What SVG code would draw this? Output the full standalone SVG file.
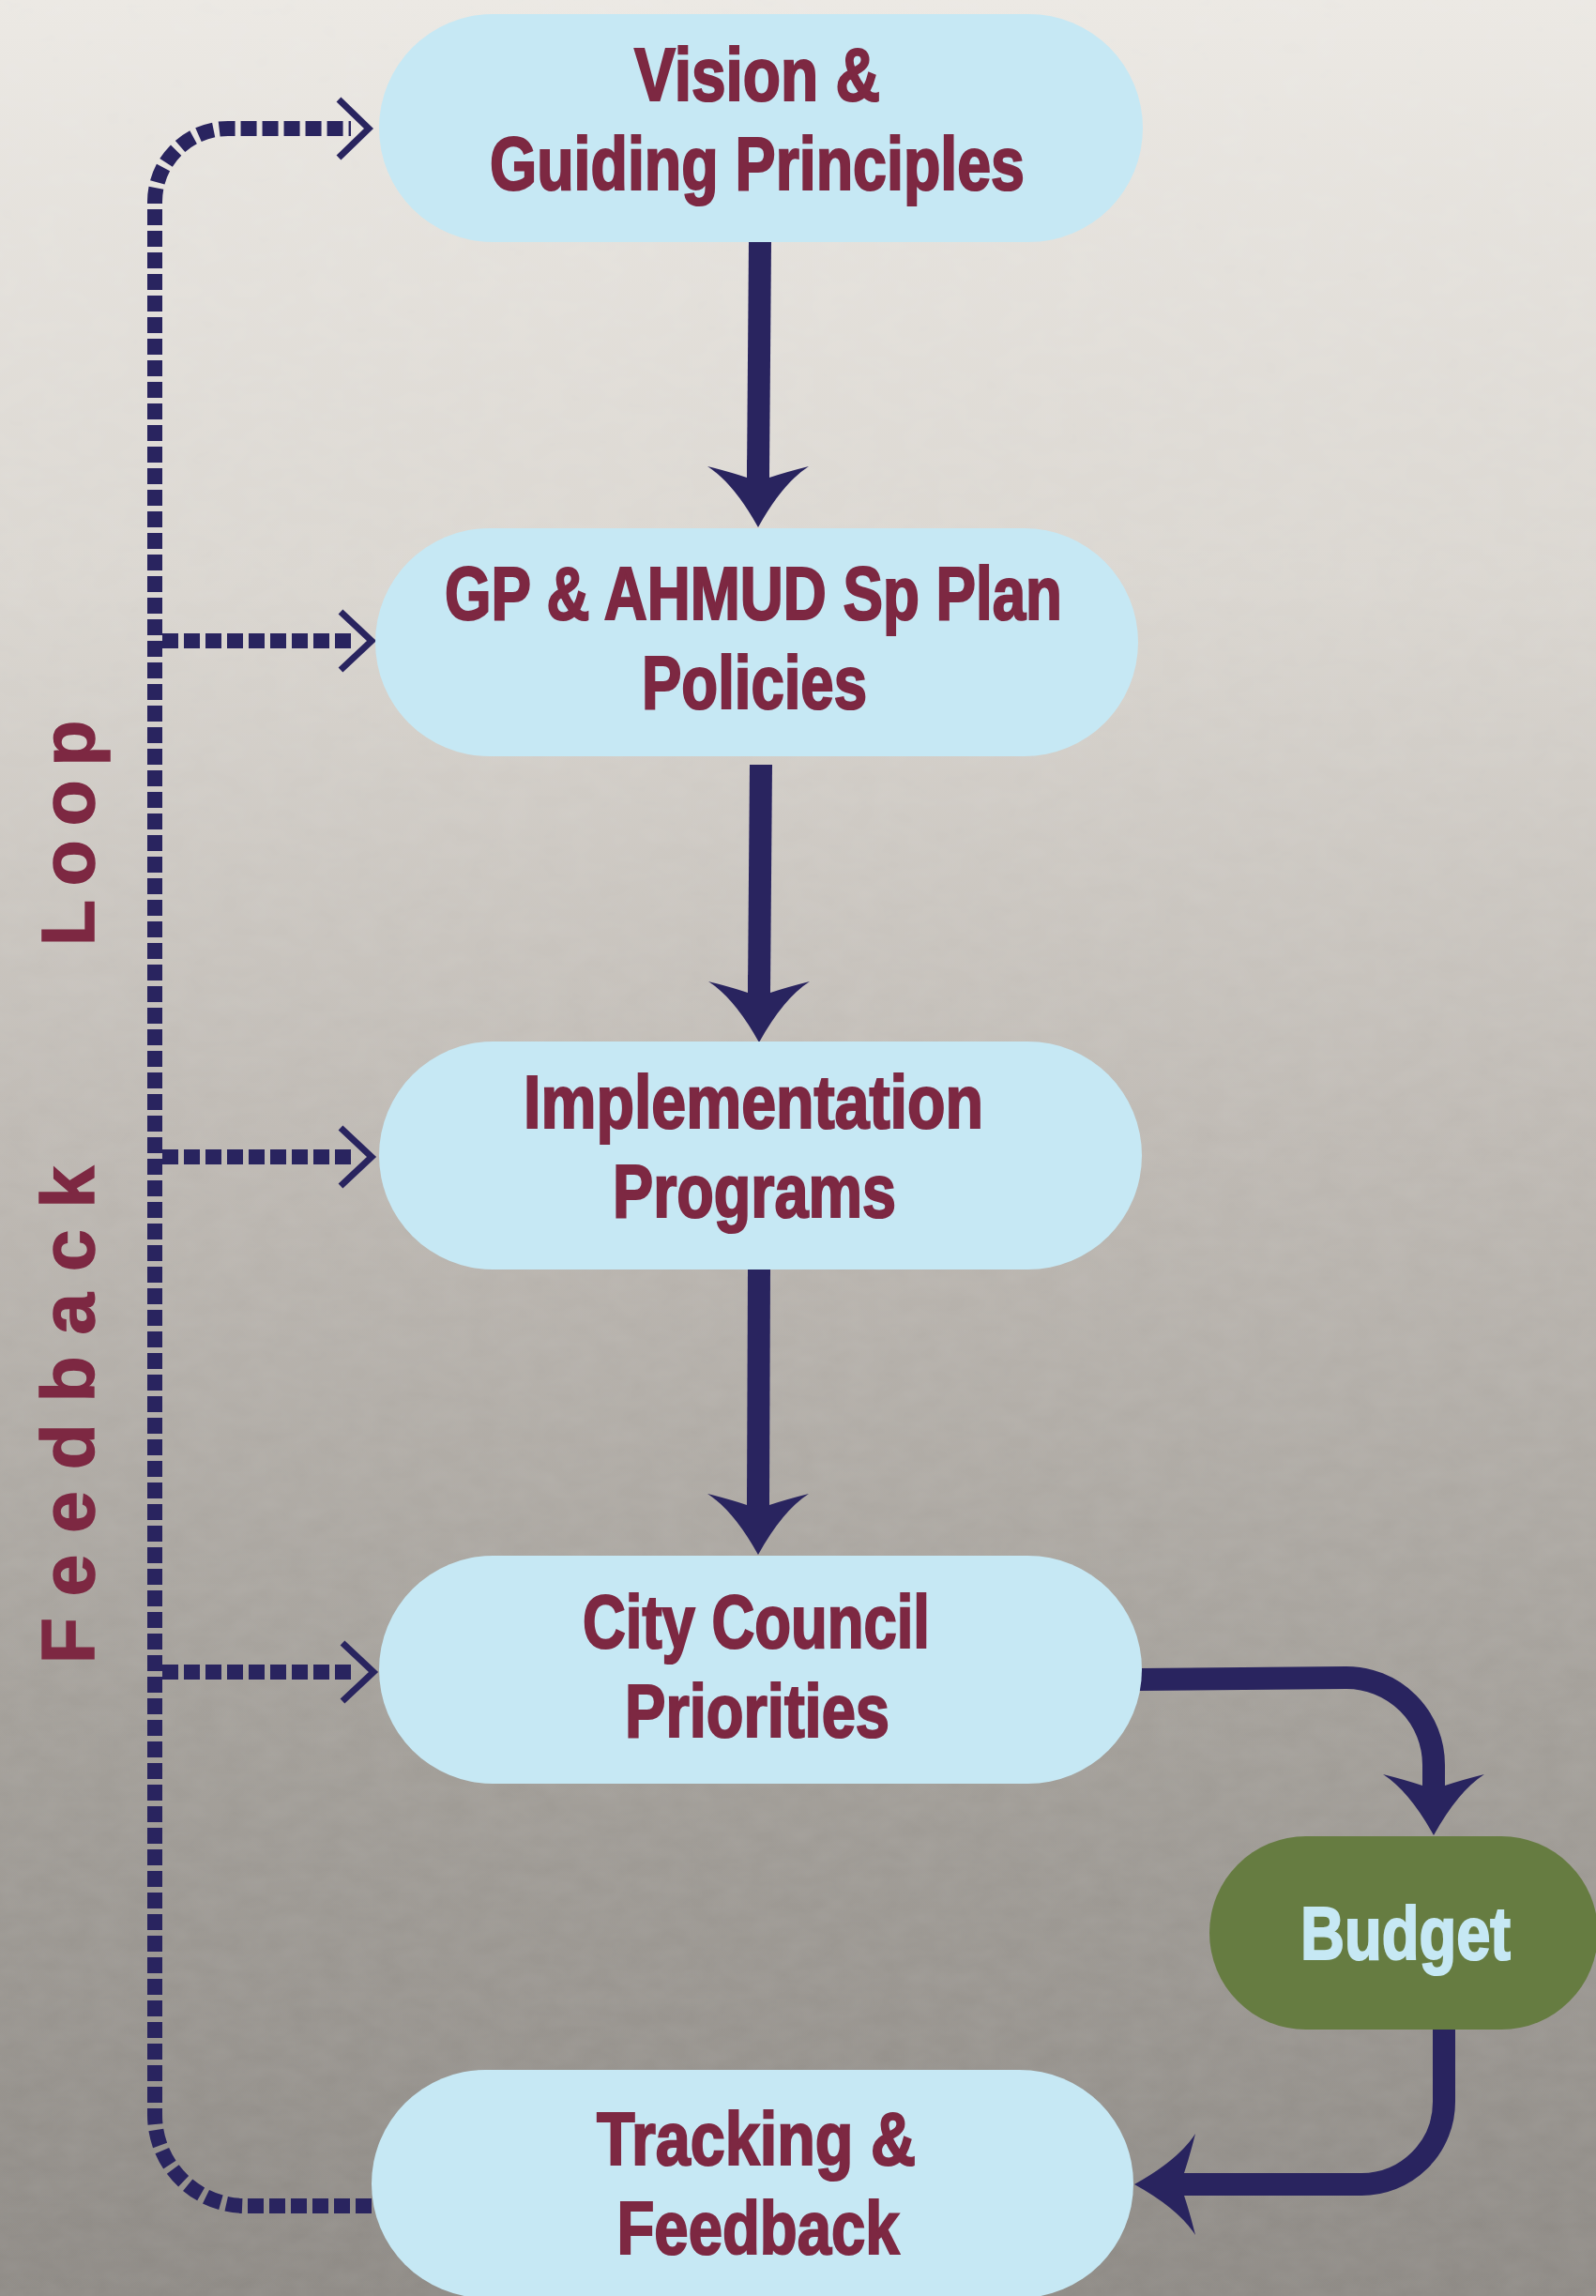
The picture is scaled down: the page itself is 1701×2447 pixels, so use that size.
<svg xmlns="http://www.w3.org/2000/svg" width="1701" height="2447" viewBox="0 0 1701 2447">
  <defs>
    <linearGradient id="bg" x1="0" y1="0" x2="0" y2="1">
      <stop offset="0" stop-color="#EBE8E3"/>
      <stop offset="0.25" stop-color="#DAD6D0"/>
      <stop offset="0.5" stop-color="#BDB8B2"/>
      <stop offset="0.75" stop-color="#A29E98"/>
      <stop offset="1" stop-color="#8D8984"/>
    </linearGradient>
    <filter id="paper" x="0" y="0" width="100%" height="100%">
      <feTurbulence type="fractalNoise" baseFrequency="0.03 0.05" numOctaves="3" seed="4"/>
      <feColorMatrix type="matrix" values="0 0 0 0 1  0 0 0 0 1  0 0 0 0 1  0 0 0 0.08 0"/>
    </filter>
    <path id="head" d="M0,0 Q-26,-47 -54,-65 Q-30,-59 -12,-53 L-12,-72 L12,-72 L12,-53 Q30,-59 54,-65 Q26,-47 0,0 Z"/>
    <style>
      .node { fill: #C6E8F4; }
      .budget { fill: #667C41; }
      .lbl { font-family: "Liberation Sans", Arial, sans-serif; font-weight: bold; font-size: 80px; fill: #7D2842; stroke: #7D2842; stroke-width: 2.2; text-anchor: middle; }
      .lbl2 { fill: #C6E8F4; stroke: #C6E8F4; }
      .solid { fill: none; stroke: #29245F; stroke-width: 24; }
      .dash { fill: none; stroke: #29245F; stroke-width: 16; stroke-dasharray: 17 6; }
      .chev { fill: none; stroke: #29245F; stroke-width: 7; }
      .hd { fill: #29245F; }
      .side { font-family: "Liberation Sans", Arial, sans-serif; font-weight: bold; font-size: 80px; fill: #7D2842; stroke: #7D2842; stroke-width: 1.5; }
    </style>
  </defs>

  <rect x="0" y="0" width="1701" height="2447" fill="url(#bg)"/>
  <rect x="0" y="0" width="1701" height="2447" filter="url(#paper)"/>

  <g id="connectors">
    <path class="dash" d="M396,2351 H262 A97 97 0 0 1 165 2254 V215 A78 78 0 0 1 243 137 H374"/>
    <polyline class="chev" points="361,106 393,137 361,168"/>
    <path class="dash" d="M173,683 H378"/>
    <polyline class="chev" points="363,652 396,683 363,714"/>
    <path class="dash" d="M173,1233 H378"/>
    <polyline class="chev" points="363,1202 396,1233 363,1264"/>
    <path class="dash" d="M173,1782 H380"/>
    <polyline class="chev" points="365,1751 398,1782 365,1813"/>

    <path class="solid" d="M810,258 L808,505"/>
    <use href="#head" class="hd" transform="translate(808,562)"/>
    <path class="solid" d="M811,815 L809,1055"/>
    <use href="#head" class="hd" transform="translate(809,1111)"/>
    <path class="solid" d="M809,1353 L808,1600"/>
    <use href="#head" class="hd" transform="translate(808,1657)"/>

    <path class="solid" d="M1214,1790 L1435,1788 A93 93 0 0 1 1528 1881 V1900"/>
    <use href="#head" class="hd" transform="translate(1528,1956)"/>

    <path class="solid" d="M1539,2160 V2240 A88 88 0 0 1 1451 2328 H1265"/>
    <use href="#head" class="hd" transform="translate(1209,2328) rotate(90)"/>
  </g>

  <g id="node-vision">
    <rect class="node" x="404" y="15" width="814" height="243" rx="121.5"/>
    <text class="lbl" x="807" y="107" textLength="262" lengthAdjust="spacingAndGlyphs">Vision &amp;</text>
    <text class="lbl" x="807" y="202" textLength="570" lengthAdjust="spacingAndGlyphs">Guiding Principles</text>
  </g>

  <g id="node-gp">
    <rect class="node" x="400" y="563" width="813" height="243" rx="121.5"/>
    <text class="lbl" x="803" y="660" textLength="658" lengthAdjust="spacingAndGlyphs">GP &amp; AHMUD Sp Plan</text>
    <text class="lbl" x="804" y="755" textLength="240" lengthAdjust="spacingAndGlyphs">Policies</text>
  </g>

  <g id="node-impl">
    <rect class="node" x="404" y="1110" width="813" height="243" rx="121.5"/>
    <text class="lbl" x="803" y="1202" textLength="490" lengthAdjust="spacingAndGlyphs">Implementation</text>
    <text class="lbl" x="804" y="1297" textLength="302" lengthAdjust="spacingAndGlyphs">Programs</text>
  </g>

  <g id="node-council">
    <rect class="node" x="404" y="1658" width="813" height="243" rx="121.5"/>
    <text class="lbl" x="806" y="1756" textLength="370" lengthAdjust="spacingAndGlyphs">City Council</text>
    <text class="lbl" x="807" y="1851" textLength="282" lengthAdjust="spacingAndGlyphs">Priorities</text>
  </g>

  <g id="node-budget">
    <rect class="budget" x="1289" y="1957" width="414" height="206" rx="103"/>
    <text class="lbl lbl2" x="1498" y="2088" textLength="224" lengthAdjust="spacingAndGlyphs">Budget</text>
  </g>

  <g id="node-tracking">
    <rect class="node" x="396" y="2206" width="812" height="243" rx="121.5"/>
    <text class="lbl" x="806" y="2307" textLength="340" lengthAdjust="spacingAndGlyphs">Tracking &amp;</text>
    <text class="lbl" x="808" y="2402" textLength="301" lengthAdjust="spacingAndGlyphs">Feedback</text>
  </g>

  <g id="label-feedback-loop">
    <text class="side" transform="rotate(-90)" y="100"><tspan x="-1773" letter-spacing="23">Feedback</tspan><tspan x="-1008" letter-spacing="15">Loop</tspan></text>
  </g>
</svg>
